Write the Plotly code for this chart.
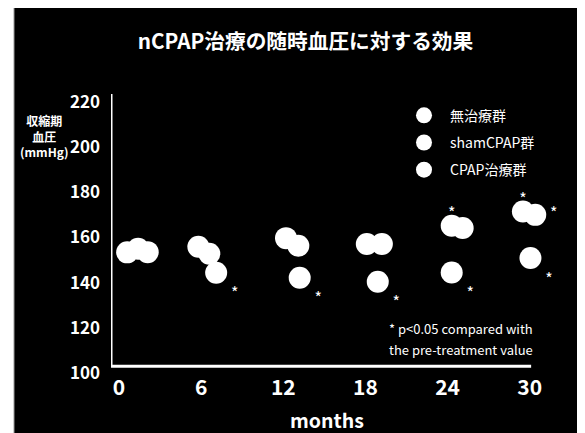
import plotly.graph_objects as go

# ---- data ----
months = [0, 6, 12, 18, 24, 30]
groups = ["無治療群", "shamCPAP群", "CPAP治療群"]
bp_no_treatment = [153.4, 155.9, 159.7, 157.1, 165.2, 171.5]
bp_sham = [155.0, 152.8, 156.3, 157.1, 164.2, 170.0]
bp_cpap = [153.5, 144.4, 142.2, 140.4, 144.5, 150.9]
sig_no_treatment = [False, False, False, False, True, True]
sig_sham = [False, False, False, False, False, True]
sig_cpap = [False, True, True, True, True, True]
y_ticks = [100, 120, 140, 160, 180, 200, 220]
x_ticks = [0, 6, 12, 18, 24, 30]

# ---- display dodge of the hand-drawn slide (months) ----
dodge_no_treatment = [0.6, -0.2, 0.2, 0.1, 0.3, -0.5]
dodge_sham = [1.4, 0.6, 1.1, 1.2, 1.1, 0.4]
dodge_cpap = [2.1, 1.1, 1.2, 0.9, 0.3, 0.05]

FONT = "Noto Sans CJK JP"
MS = 22

# layout geometry (pixels of the photographed page; the page body adds an 8px offset)
OFF = 8
FIG_W, FIG_H = 585 - OFF, 433 - OFF
XMIN, XMAX = -0.58, 32.5
YMIN, YMAX = 100, 223.5
PL, PW = 111, 453          # plot left and width on the page
PB, PH = 373.3, 279        # plot bottom and height on the page


def fx(p):
    return (p - PL) / PW


def fy(p):
    return (PB - p) / PH


# (name, values, dodge, significance, star position, star offset marker size)
series = [
    (groups[0], bp_no_treatment, dodge_no_treatment, sig_no_treatment, "top center", 2),
    (groups[1], bp_sham, dodge_sham, sig_sham, "middle right", MS),
    (groups[2], bp_cpap, dodge_cpap, sig_cpap, "bottom right", MS),
]

fig = go.Figure()
for name, vals, dodge, sig, tpos, tsize in series:
    xs = [m + d for m, d in zip(months, dodge)]
    fig.add_trace(go.Scatter(
        x=xs, y=vals, mode="markers", name=name, legendgroup=name,
        marker=dict(size=MS, color="white", line=dict(width=0)),
        cliponaxis=False,
    ))
for name, vals, dodge, sig, tpos, tsize in series:
    xs = [m + d for m, d in zip(months, dodge)]
    fig.add_trace(go.Scatter(
        x=xs, y=vals, mode="markers+text", showlegend=False,
        text=["*" if s else "" for s in sig],
        textposition=tpos,
        textfont=dict(size=16, color="white", family=FONT),
        marker=dict(size=tsize, color="rgba(0,0,0,0)"),
        cliponaxis=False, hoverinfo="skip",
    ))

fig.update_layout(
    width=FIG_W, height=FIG_H,
    margin=dict(l=PL - OFF, r=FIG_W - (PL - OFF) - PW, t=(PB - OFF) - PH,
                b=FIG_H - (PB - OFF)),
    paper_bgcolor="black",
    plot_bgcolor="black",
    title=dict(text="<b>nCPAP治療の随時血圧に対する効果</b>",
               x=(305.5 - OFF) / FIG_W, xref="container", xanchor="center",
               y=1 - (41.7 - OFF) / FIG_H, yref="container", yanchor="middle",
               font=dict(family=FONT, size=20.7, color="white")),
    showlegend=True,
    legend=dict(x=fx(398), y=fy(100), xanchor="left", yanchor="top",
                bgcolor="rgba(0,0,0,0)", traceorder="grouped",
                tracegroupgap=6, itemsizing="trace", itemwidth=42,
                font=dict(family=FONT, size=14, color="white")),
    xaxis=dict(range=[XMIN, XMAX], showgrid=False, zeroline=False,
               showline=False, ticks="", tickmode="array",
               tickvals=x_ticks, ticktext=[str(v) for v in x_ticks],
               tickfont=dict(family=FONT, size=21, color="white", weight="bold")),
    yaxis=dict(range=[YMIN, YMAX], showgrid=False, zeroline=False,
               showline=False, ticks="", tickmode="array",
               tickvals=y_ticks, ticktext=[str(v) for v in y_ticks],
               ticklabelstandoff=10,
               tickfont=dict(family=FONT, size=17, color="white", weight="bold")),
    shapes=[
        dict(type="rect", xref="paper", yref="paper",
             x0=-0.5, x1=fx(14), y0=-1, y1=2,
             fillcolor="white", line=dict(color="#999", width=1), layer="below"),
        dict(type="line", xref="x", yref="y", x0=XMIN, x1=XMIN, y0=103, y1=YMAX,
             line=dict(color="white", width=3)),
        dict(type="line", xref="x", yref="y", x0=XMIN, x1=30.1, y0=103, y1=103,
             line=dict(color="white", width=3)),
    ],
    annotations=[
        dict(text="<b>収縮期<br>血圧<br>(mmHg)</b>", xref="paper", yref="paper",
             x=fx(44), y=fy(136), xanchor="center", yanchor="middle",
             showarrow=False, align="center",
             font=dict(family=FONT, size=12, color="white")),
        dict(text="<b>months</b>", xref="paper", yref="paper",
             x=fx(326.7), y=fy(420), xanchor="center", yanchor="middle",
             showarrow=False, borderpad=0,
             font=dict(family=FONT, size=19.5, color="white")),
        dict(text="* p<0.05 compared with", xref="paper", yref="paper",
             x=fx(387), y=fy(328.3), xanchor="left", yanchor="middle",
             showarrow=False, font=dict(family=FONT, size=13, color="white")),
        dict(text="the pre-treatment value", xref="paper", yref="paper",
             x=fx(387), y=fy(349.3), xanchor="left", yanchor="middle",
             showarrow=False, font=dict(family=FONT, size=13, color="white")),
    ],
)

fig.write_html("out.html")
